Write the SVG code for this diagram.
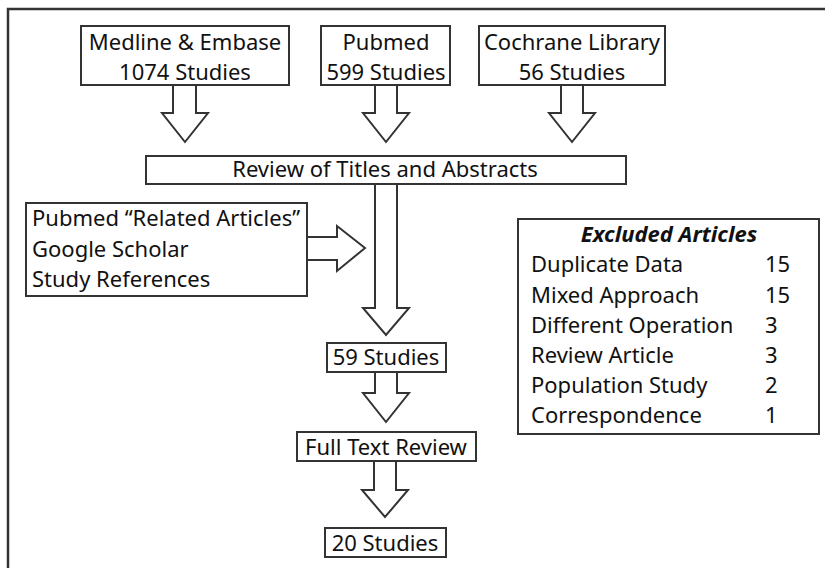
<svg xmlns="http://www.w3.org/2000/svg" width="825" height="568" viewBox="0 0 825 568">
<style>
.box{fill:#fff;stroke:#333;stroke-width:2}
.arr{fill:#fff;stroke:#333;stroke-width:2;stroke-linejoin:miter}
.t{font-family:"Noto Sans","Open Sans",sans-serif;font-size:22px;fill:#111}
.c{text-anchor:middle}
.h{font-weight:bold;font-style:italic}
</style>
<rect width="825" height="568" fill="#fff"/>
<path d="M8,575 V9 H830" fill="none" stroke="#333" stroke-width="2.5"/>
<g id="connectors">
<path class="arr" d="M173,85 V113 H162 L185,142 L208,113 H196 V85"/>
<path class="arr" d="M375,85 V113 H363 L386,142 L409,113 H397 V85"/>
<path class="arr" d="M561,85 V113 H549 L572,142 L595,113 H583 V85"/>
<path class="arr" d="M375,184 V308 H363 L386,335 L409,308 H397 V184"/>
<path class="arr" d="M307,237 H337 V226 L365,248 L337,271 V260 H307"/>
<path class="arr" d="M375,372 V393 H363 L386,422 L409,393 H397 V372"/>
<path class="arr" d="M374,461 V490 H362 L385,517 L408,490 H396 V461"/>
</g>
<g id="medline">
<rect class="box" x="81" y="26" width="208" height="59"/>
<text class="t c" x="185" y="50">Medline &amp; Embase</text>
<text class="t c" x="185" y="80">1074 Studies</text>
</g>
<g id="pubmed">
<rect class="box" x="321" y="26" width="129" height="59"/>
<text class="t c" x="386" y="50">Pubmed</text>
<text class="t c" x="386" y="80">599 Studies</text>
</g>
<g id="cochrane">
<rect class="box" x="479" y="26" width="186" height="59"/>
<text class="t c" x="572" y="50">Cochrane Library</text>
<text class="t c" x="572" y="80">56 Studies</text>
</g>
<g id="review">
<rect class="box" x="146" y="156" width="480" height="28"/>
<text class="t c" x="385" y="177">Review of Titles and Abstracts</text>
</g>
<g id="other-sources">
<rect class="box" x="26" y="203" width="281" height="93"/>
<text class="t" x="32" y="226">Pubmed “Related Articles”</text>
<text class="t" x="32" y="257">Google Scholar</text>
<text class="t" x="32" y="287">Study References</text>
</g>
<g id="studies59">
<rect class="box" x="327" y="343" width="119" height="29"/>
<text class="t c" x="386" y="365">59 Studies</text>
</g>
<g id="fulltext">
<rect class="box" x="297" y="432" width="179" height="29"/>
<text class="t c" x="386" y="455">Full Text Review</text>
</g>
<g id="studies20">
<rect class="box" x="325" y="528" width="121" height="29"/>
<text class="t c" x="385" y="551">20 Studies</text>
</g>
<g id="excluded">
<rect class="box" x="518" y="219" width="301" height="215"/>
<text class="t c h" x="669" y="242">Excluded Articles</text>
<text class="t" x="531" y="272">Duplicate Data</text><text class="t" x="765" y="272">15</text>
<text class="t" x="531" y="303">Mixed Approach</text><text class="t" x="765" y="303">15</text>
<text class="t" x="531" y="333">Different Operation</text><text class="t" x="765" y="333">3</text>
<text class="t" x="531" y="363">Review Article</text><text class="t" x="765" y="363">3</text>
<text class="t" x="531" y="393">Population Study</text><text class="t" x="765" y="393">2</text>
<text class="t" x="531" y="423">Correspondence</text><text class="t" x="765" y="423">1</text>
</g>
</svg>
